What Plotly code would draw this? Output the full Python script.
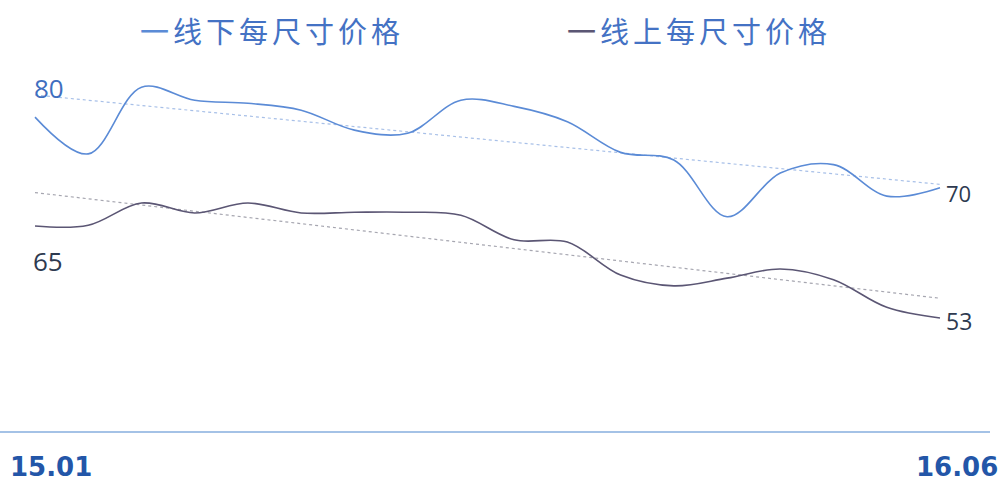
import numpy as np
import plotly.graph_objects as go

months = ["15.01", "15.02", "15.03", "15.04", "15.05", "15.06", "15.07", "15.08", "15.09",
          "15.10", "15.11", "15.12", "16.01", "16.02", "16.03", "16.04", "16.05", "16.06"]
offline_price = [79.2, 74.4, 83.1, 81.4, 81.0, 80.1, 77.5, 77.1, 81.4,
                 80.6, 78.6, 74.6, 73.6, 66.2, 71.9, 73.0, 68.9, 70.0]
online_price = [65.0, 65.1, 68.0, 66.7, 68.0, 66.7, 66.8, 66.8, 66.4,
                63.2, 62.9, 58.6, 57.2, 58.2, 59.4, 58.0, 54.4, 53.0]
series_names = ["一线下每尺寸价格", "一线上每尺寸价格"]
start_labels = ["80", "65"]

idx = np.arange(len(months))
blue = "#5B8BD6"
dark = "#5B5674"

fig = go.Figure()

# trend lines (linear fit)
for vals, col in [(offline_price, "#A8C0E8"), (online_price, "#A6A6B0")]:
    k, b = np.polyfit(idx, vals, 1)
    fig.add_trace(go.Scatter(x=idx, y=k * idx + b, mode="lines",
                             line=dict(color=col, width=1.2, dash="dot"),
                             showlegend=False, hoverinfo="skip"))

fig.add_trace(go.Scatter(x=idx, y=offline_price, mode="lines", name=series_names[0],
                         line=dict(color=blue, width=1.6, shape="spline", smoothing=1.0),
                         showlegend=False))
fig.add_trace(go.Scatter(x=idx, y=online_price, mode="lines", name=series_names[1],
                         line=dict(color=dark, width=1.6, shape="spline", smoothing=1.0),
                         showlegend=False))

W, H = 1004, 485
plot_left, plot_right, plot_top, plot_bottom = 0, 990, 60, 432
px_per_idx = (940 - 35) / (len(months) - 1)
x0 = -35 / px_per_idx
x1 = (plot_right - 35) / px_per_idx
px_per_val = 7.67
y_top = 65 + (226 - plot_top) / px_per_val
y_bot = 65 - (plot_bottom - 226) / px_per_val
ph = plot_bottom - plot_top

ann = []
# legend-like titles
lx = [272 / 990, 699 / 990]
for i, (name, col) in enumerate(zip(series_names, [blue, dark])):
    ann.append(dict(xref="paper", yref="paper", x=lx[i], y=1 + 30 / ph,
                    text=(f"<span style='letter-spacing:4px'><span style='color:{col}'>{name[0]}</span>"
                          f"{name[1:]}</span>"),
                    showarrow=False, xanchor="center", yanchor="middle",
                    font=dict(family="Noto Sans CJK SC", size=29, color="#4472C4")))
# value labels
ann.append(dict(xref="paper", yref="paper", x=32 / 990, y=1 - (88 - plot_top) / ph,
                text=start_labels[0], showarrow=False, xanchor="left", yanchor="middle",
                font=dict(family="Open Sans", size=26, color="#3F6FC0")))
ann.append(dict(xref="paper", yref="paper", x=31 / 990, y=1 - (261 - plot_top) / ph,
                text=start_labels[1], showarrow=False, xanchor="left", yanchor="middle",
                font=dict(family="Open Sans", size=26, color="#2E3A50")))
ann.append(dict(x=idx[-1], y=offline_price[-1], text=f"{offline_price[-1]:.0f}", showarrow=False,
                xanchor="left", yanchor="middle", xshift=4, yshift=-5,
                font=dict(family="Open Sans", size=22, color="#2E3A50")))
ann.append(dict(x=idx[-1], y=online_price[-1], text=f"{online_price[-1]:.0f}", showarrow=False,
                xanchor="left", yanchor="middle", xshift=4, yshift=-3,
                font=dict(family="Open Sans", size=23, color="#2E3A50")))
# x axis end labels
ann.append(dict(xref="paper", yref="paper", x=8 / 990, y=-(467 - plot_bottom) / ph,
                text=f"<b>{months[0]}</b>", showarrow=False, xanchor="left", yanchor="middle",
                font=dict(family="DejaVu Sans", size=26, color="#2356A8")))
ann.append(dict(xref="paper", yref="paper", x=1000 / 990, y=-(467 - plot_bottom) / ph,
                text=f"<b>{months[-1]}</b>", showarrow=False, xanchor="right", yanchor="middle",
                font=dict(family="DejaVu Sans", size=26, color="#2356A8")))

fig.update_layout(
    width=W, height=H,
    margin=dict(l=plot_left, r=W - plot_right, t=plot_top, b=H - plot_bottom),
    paper_bgcolor="white", plot_bgcolor="white",
    xaxis=dict(range=[x0, x1], showgrid=False, zeroline=False, showticklabels=False,
               showline=False, fixedrange=True),
    yaxis=dict(range=[y_bot, y_top], showgrid=False, zeroline=False, showticklabels=False,
               showline=False),
    annotations=ann,
    shapes=[dict(type="line", xref="paper", yref="paper", x0=0, x1=1, y0=0, y1=0,
                 line=dict(color="#A4C2E6", width=2))],
)

fig.write_html("out.html")
